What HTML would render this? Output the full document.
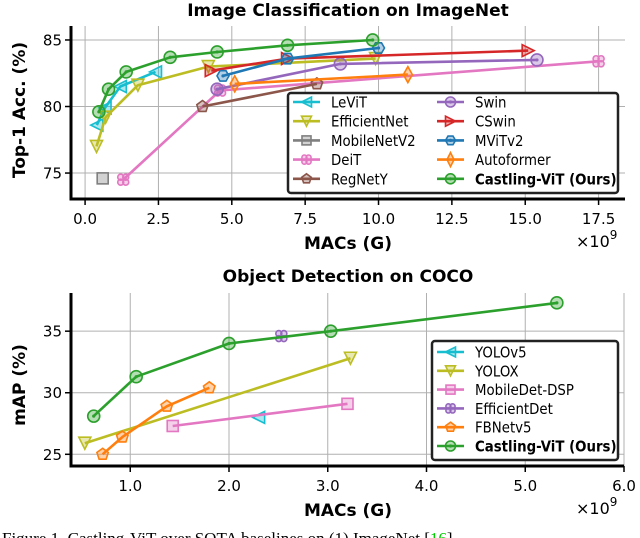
<!DOCTYPE html>
<html><head><meta charset="utf-8"><style>
html,body{margin:0;padding:0;background:#fff;}
svg{display:block;font-family:"DejaVu Sans","Liberation Sans",sans-serif;}
</style></head><body>
<svg id="fig" width="640" height="538" viewBox="0 0 640 538"></svg>
<script>
// ---- Top chart data (MACs in G, Top-1 %) ----
const topNames = ["LeViT","EfficientNet","MobileNetV2","DeiT","RegNetY","Swin","CSwin","MViTv2","Autoformer","Castling-ViT (Ours)"];
const levitX=[0.4,0.68,1.2,2.4], levitY=[78.6,79.9,81.5,82.6];
const effX=[0.39,0.7,1.8,4.2,9.9], effY=[77.0,79.2,81.6,83.0,83.6];
const mobX=[0.6], mobY=[74.6];
const deitX=[1.3,4.6,17.5], deitY=[74.5,81.2,83.4];
const regX=[4.0,7.9], regY=[80.0,81.7];
const swinX=[4.5,8.7,15.4], swinY=[81.3,83.2,83.5];
const cswinX=[4.3,6.9,15.1], cswinY=[82.7,83.6,84.2];
const mvitX=[4.7,6.9,10.0], mvitY=[82.3,83.6,84.4];
const autoX=[5.1,11.0], autoY=[81.7,82.4];
const castX=[0.47,0.8,1.4,2.9,4.5,6.9,9.8], castY=[79.6,81.3,82.6,83.7,84.1,84.6,85.0];
const topXTicks=[0,2.5,5,7.5,10,12.5,15,17.5];
const topXTickLabels=["0.0","2.5","5.0","7.5","10.0","12.5","15.0","17.5"];
const topYTicks=[75,80,85];
// ---- Bottom chart data (MACs in G, mAP %) ----
const botNames=["YOLOv5","YOLOX","MobileDet-DSP","EfficientDet","FBNetv5","Castling-ViT (Ours)"];
const yolo5X=[2.3], yolo5Y=[28.0];
const yoloxX=[0.54,3.23], yoloxY=[25.9,32.8];
const mdetX=[1.43,3.2], mdetY=[27.3,29.1];
const edetX=[2.53], edetY=[34.6];
const fbX=[0.72,0.92,1.37,1.8], fbY=[25.0,26.4,28.9,30.4];
const cast2X=[0.63,1.06,2.0,3.03,5.32], cast2Y=[28.1,31.3,34.0,35.0,37.3];
const botXTicks=[1,2,3,4,5,6];
const botXTickLabels=["1.0","2.0","3.0","4.0","5.0","6.0"];
const botYTicks=[25,30,35];

const NS="http://www.w3.org/2000/svg";
const svg=document.getElementById('fig');
function mk(tag,attrs,parent){const e=document.createElementNS(NS,tag);for(const k in attrs)e.setAttribute(k,attrs[k]);(parent||svg).appendChild(e);return e;}
function txt(s,attrs,parent){const e=mk('text',attrs,parent);e.textContent=s;return e;}

function marker(g,shape,cx,cy,col,rr){
  const r=rr||6, st={fill:col,'fill-opacity':0.35,stroke:col,'stroke-width':1.6};
  let e;
  if(shape==='o'){e=mk('circle',Object.assign({cx:cx,cy:cy,r:r},st),g);mk('circle',{cx:cx,cy:cy,r:1.6,fill:col},g);}
  else if(shape==='<'){e=mk('polygon',Object.assign({points:`${cx-r},${cy} ${cx+r},${cy-r} ${cx+r},${cy+r}`},st),g);}
  else if(shape==='>'){e=mk('polygon',Object.assign({points:`${cx+r},${cy} ${cx-r},${cy-r} ${cx-r},${cy+r}`},st),g);}
  else if(shape==='v'){e=mk('polygon',Object.assign({points:`${cx-r},${cy-r} ${cx+r},${cy-r} ${cx},${cy+r}`},st),g);}
  else if(shape==='s'){e=mk('rect',Object.assign({x:cx-r+0.5,y:cy-r+0.5,width:2*r-1,height:2*r-1},st),g);}
  else if(shape==='d'){e=mk('polygon',Object.assign({points:`${cx},${cy-r-2} ${cx+r-1.5},${cy} ${cx},${cy+r+2} ${cx-r+1.5},${cy}`},st),g);}
  else if(shape==='p'){let p=[];for(let i=0;i<5;i++){const a=-Math.PI/2+i*2*Math.PI/5;p.push((cx+r*Math.cos(a)).toFixed(1)+','+(cy+r*Math.sin(a)).toFixed(1));}e=mk('polygon',Object.assign({points:p.join(' ')},st),g);}
  else if(shape==='X'){const q=r*0.42;e=mk('g',{},g);[[-1,-1],[1,-1],[-1,1],[1,1]].forEach(d=>mk('circle',Object.assign({cx:cx+d[0]*q,cy:cy+d[1]*q,r:r*0.5},st),e));}
  else if(shape==='h'){let p=[];for(let i=0;i<6;i++){const a=i*Math.PI/3;p.push((cx+r*Math.cos(a)).toFixed(1)+','+(cy+r*Math.sin(a)).toFixed(1));}e=mk('polygon',Object.assign({points:p.join(' ')},st),g);mk('circle',{cx:cx,cy:cy,r:1.6,fill:col},g);}
  return e;
}

function chart(cfg){
  const {L,R,T,B,x0,x1,y0,y1}=cfg;
  const sx=v=>L+(v-x0)/(x1-x0)*(R-L);
  const sy=v=>B-(v-y0)/(y1-y0)*(B-T);
  const g=mk('g',{});
  
  
  cfg.xt.forEach((v,i)=>{
    const l=mk('line',{x1:sx(v),x2:sx(v),y1:T,y2:B,stroke:'#b0b0b0','stroke-width':1},g);
    
    mk('line',{x1:sx(v),x2:sx(v),y1:B,y2:B+6,stroke:'#000','stroke-width':1.5},g);
    const t=txt(cfg.xl[i],{x:sx(v),y:B+25,'text-anchor':'middle','font-size':15},g);
    
  });
  cfg.yt.forEach(v=>{
    const l=mk('line',{x1:L,x2:R,y1:sy(v),y2:sy(v),stroke:'#b0b0b0','stroke-width':1},g);
    
    mk('line',{x1:L-6,x2:L,y1:sy(v),y2:sy(v),stroke:'#000','stroke-width':1.5},g);
    const t=txt(String(v),{x:L-9,y:sy(v)+5.5,'text-anchor':'end','font-size':15},g);
    
  });
  cfg.series.forEach(s=>{
    const sg=mk('g',{},g);
    
    
    if(s.x.length>1){
      const pts=s.x.map((v,i)=>sx(v).toFixed(1)+','+sy(s.y[i]).toFixed(1)).join(' ');
      const pl=mk('polyline',{points:pts,fill:'none',stroke:s.c,'stroke-width':2.6,'stroke-linejoin':'round'},sg);
      
    }
    s.x.forEach((v,i)=>{const m=marker(sg,s.m,sx(v),sy(s.y[i]),s.c);});
  });
  mk('line',{x1:L,x2:L,y1:T,y2:B+1.5,stroke:'#000','stroke-width':3},g);
  mk('line',{x1:L-1.5,x2:R,y1:B,y2:B,stroke:'#000','stroke-width':3},g);
  const lg=cfg.legend;
  const lgg=mk('g',{},g);
  
  mk('rect',{x:lg.x,y:lg.y,width:lg.w,height:lg.h,rx:3,fill:'#fff',stroke:'#222','stroke-width':2.5},lgg);
  cfg.series.forEach((s,i)=>{
    const col=Math.floor(i/lg.rows), row=i%lg.rows;
    const bx=lg.x+5+col*lg.colw, by=lg.y+lg.dy0+row*lg.dy;
    const eg=mk('g',{},lgg);
    
    mk('line',{x1:bx,x2:bx+27,y1:by,y2:by,stroke:s.c,'stroke-width':2.6},eg);
    marker(eg,s.m,bx+13.5,by,s.c,5);
    const tg=mk('g',{transform:`translate(${bx+38},${by+5.5}) scale(0.86,1)`},eg);
    txt(s.name,{x:0,y:0,'font-size':15.5,'font-weight':s.bold?'bold':'normal'},tg);
  });
  return {sx,sy};
}

function label(s,attrs,name){const t=txt(s,attrs);return t;}
label('Image Classification on ImageNet',{x:348,y:16,'text-anchor':'middle','font-size':17,'font-weight':'bold'},'top-chart-title');
label('Top-1 Acc. (%)',{x:0,y:0,'text-anchor':'middle','font-size':17,'font-weight':'bold',transform:'translate(25,110) rotate(-90)'},'top-y-axis-title');
label('MACs (G)',{x:348,y:249,'text-anchor':'middle','font-size':17,'font-weight':'bold'},'top-x-axis-title');
const e1=label('×10',{x:576,y:247,'font-size':16},'top-x-scale-label');
const s1=mk('tspan',{dy:-8,'font-size':12},e1);s1.textContent='9';
label('Object Detection on COCO',{x:348,y:282,'text-anchor':'middle','font-size':17,'font-weight':'bold'},'bottom-chart-title');
label('mAP (%)',{x:0,y:0,'text-anchor':'middle','font-size':17,'font-weight':'bold',transform:'translate(25,385) rotate(-90)'},'bottom-y-axis-title');
label('MACs (G)',{x:348,y:516,'text-anchor':'middle','font-size':17,'font-weight':'bold'},'bottom-x-axis-title');
const e2=label('×10',{x:576,y:514,'font-size':16},'bottom-x-scale-label');
const s2=mk('tspan',{dy:-8,'font-size':12},e2);s2.textContent='9';
const cap=txt('Figure 1. Castling-ViT over SOTA baselines on (1) ImageNet [',{x:2,y:544,'font-size':17,'font-family':'"Liberation Serif",serif'});

const ct=mk('tspan',{fill:'#00cc00'},cap);ct.textContent='16';
const ct2=mk('tspan',{},cap);ct2.textContent=']';

chart({name:'imagenet-chart',L:71,R:625,T:26,B:199,x0:-0.48,x1:18.4,y0:73.05,y1:86.05,
  xt:topXTicks,xl:topXTickLabels,yt:topYTicks,
  series:[
    {name:topNames[0],x:levitX,y:levitY,c:'#17becf',m:'<'},
    {name:topNames[1],x:effX,y:effY,c:'#bcbd22',m:'v'},
    {name:topNames[2],x:mobX,y:mobY,c:'#7f7f7f',m:'s'},
    {name:topNames[3],x:deitX,y:deitY,c:'#e377c2',m:'X'},
    {name:topNames[4],x:regX,y:regY,c:'#8c564b',m:'p'},
    {name:topNames[5],x:swinX,y:swinY,c:'#9467bd',m:'o'},
    {name:topNames[6],x:cswinX,y:cswinY,c:'#d62728',m:'>'},
    {name:topNames[7],x:mvitX,y:mvitY,c:'#1f77b4',m:'h'},
    {name:topNames[8],x:autoX,y:autoY,c:'#ff7f0e',m:'d'},
    {name:topNames[9],x:castX,y:castY,c:'#2ca02c',m:'o',bold:true}],
  legend:{x:288,y:93,w:330,h:100,rows:5,colw:144,dy0:9,dy:19.2}});

chart({name:'coco-chart',L:71,R:624,T:293,B:466,x0:0.40,x1:6.0,y0:24.05,y1:38.1,
  xt:botXTicks,xl:botXTickLabels,yt:botYTicks,
  series:[
    {name:botNames[0],x:yolo5X,y:yolo5Y,c:'#17becf',m:'<'},
    {name:botNames[1],x:yoloxX,y:yoloxY,c:'#bcbd22',m:'v'},
    {name:botNames[2],x:mdetX,y:mdetY,c:'#e377c2',m:'s'},
    {name:botNames[3],x:edetX,y:edetY,c:'#9467bd',m:'X'},
    {name:botNames[4],x:fbX,y:fbY,c:'#ff7f0e',m:'p'},
    {name:botNames[5],x:cast2X,y:cast2Y,c:'#2ca02c',m:'o',bold:true}],
  legend:{x:432,y:341,w:186,h:119,rows:6,colw:0,dy0:11,dy:18.8}});
</script>
</body></html>
